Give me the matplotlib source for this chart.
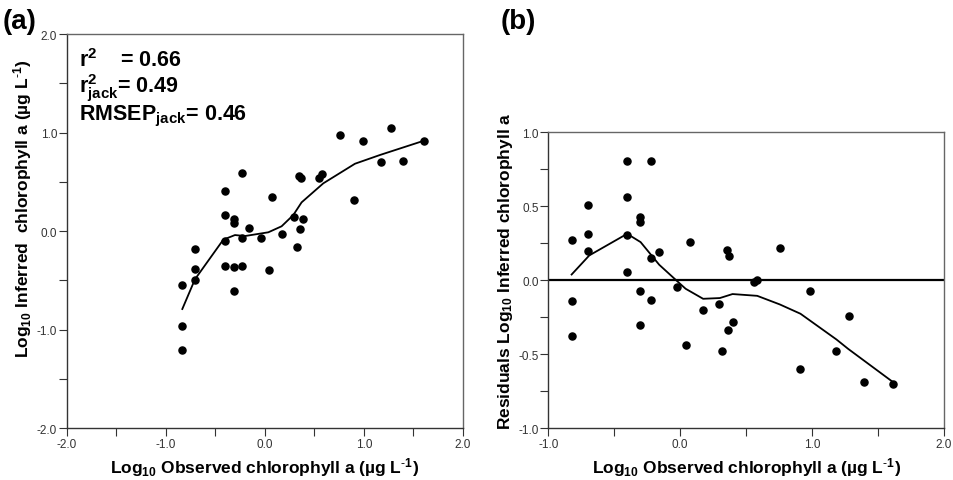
import matplotlib
matplotlib.use('Agg')
import matplotlib.pyplot as plt
import numpy as np

plt.rcParams['font.family'] = ['Liberation Sans', 'DejaVu Sans']
plt.rcParams['mathtext.fontset'] = 'custom'
plt.rcParams['mathtext.rm'] = 'Liberation Sans'
plt.rcParams['mathtext.bf'] = 'Liberation Sans:bold'
plt.rcParams['mathtext.default'] = 'bf'

# (a) observed vs inferred
obs_a = [-0.835, -0.835, -0.835, -0.707, -0.707, -0.707, -0.407, -0.407, -0.407, -0.407,
         -0.31, -0.31, -0.31, -0.31, -0.229, -0.229, -0.229, -0.165, -0.037, 0.068,
         0.037, 0.168, 0.29, 0.32, 0.35, 0.387, 0.34, 0.36, 0.545, 0.573,
         0.761, 0.899, 0.987, 1.175, 1.27, 1.391, 1.606]
inf_a = [-0.55, -0.968, -1.205, -0.183, -0.386, -0.494, 0.403, 0.166, -0.098, -0.352,
         0.122, 0.081, -0.369, -0.606, 0.589, -0.074, -0.359, 0.03, -0.074, 0.342,
         -0.393, -0.03, 0.139, -0.166, 0.02, 0.122, 0.562, 0.535, 0.538, 0.579,
         0.978, 0.315, 0.917, 0.704, 1.043, 0.711, 0.917]
lo_x_a = [-0.835, -0.707, -0.421, -0.303, -0.202, 0.034, 0.168, 0.286, 0.37, 0.589, 0.909, 1.162, 1.606]
lo_y_a = [-0.792, -0.49, -0.088, -0.041, -0.051, -0.013, 0.048, 0.162, 0.291, 0.484, 0.683, 0.772, 0.917]

# (b) residuals
obs_b = [-0.823, -0.823, -0.823, -0.7, -0.7, -0.7, -0.402, -0.402, -0.402, -0.402,
         -0.306, -0.306, -0.306, -0.306, -0.218, -0.218, -0.218, -0.159, -0.027, 0.041,
         0.073, 0.172, 0.298, 0.318, 0.354, 0.359, 0.371, 0.397, 0.556, 0.579,
         0.76, 0.907, 0.988, 1.182, 1.278, 1.397, 1.614]
res_b = [0.274, -0.139, -0.375, 0.512, 0.314, 0.197, 0.803, 0.562, 0.303, 0.055,
         0.427, 0.391, -0.069, -0.305, 0.807, 0.148, -0.132, 0.19, -0.046, -0.44,
         0.26, -0.204, -0.163, -0.479, 0.208, -0.334, 0.161, -0.28, -0.012, 0.003,
         0.22, -0.598, -0.073, -0.479, -0.24, -0.688, -0.704]
lo_x_b = [-0.823, -0.689, -0.402, -0.3, -0.159, -0.02, 0.041, 0.174, 0.301, 0.397, 0.584, 0.755, 0.912, 1.185, 1.273, 1.614]
lo_y_b = [0.039, 0.168, 0.314, 0.258, 0.105, -0.008, -0.057, -0.125, -0.12, -0.093, -0.105, -0.163, -0.226, -0.4, -0.463, -0.688]

unit = r'(µg L$^{\text{-}1}$)'
xlabel = 'Log$_{10}$ Observed chlorophyll a ' + unit

fig = plt.figure(figsize=(9.54, 4.81), dpi=100)
ax1 = fig.add_axes([0.0702, 0.1081, 0.4151, 0.8191])
ax2 = fig.add_axes([0.5747, 0.1075, 0.4148, 0.6154])


def style_axes(ax):
    for side in ['top', 'right']:
        ax.spines[side].set_color('#666666')
        ax.spines[side].set_linewidth(1.0)
    for side in ['left', 'bottom']:
        ax.spines[side].set_color('#333333')
        ax.spines[side].set_linewidth(1.0)
    ax.tick_params(which='both', direction='out', length=6, width=0.8, color='#333333',
                   labelsize=8.5, labelcolor='#333333', pad=1)


ax1.scatter(obs_a, inf_a, s=26, color='black', zorder=3)
ax1.plot(lo_x_a, lo_y_a, color='black', lw=1.3)
ax1.set_xlim(-2, 2)
ax1.set_ylim(-2, 2)
ax1.set_xticks([-2, -1, 0, 1, 2])
ax1.set_xticklabels(['-2.0', '-1.0', '0.0', '1.0', '2.0'])
ax1.set_xticks([-1.5, -0.5, 0.5, 1.5], minor=True)
ax1.set_yticks([-2, -1, 0, 1, 2])
ax1.set_yticklabels(['-2.0', '-1.0', '0.0', '1.0', '2.0'])
ax1.set_yticks([-1.5, -0.5, 0.5, 1.5], minor=True)
style_axes(ax1)
ax1.set_xlabel(xlabel, fontsize=12.5, fontweight='bold', labelpad=4)
ax1.set_ylabel('Log$_{10}$ Inferred  chlorophyll a ' + unit, fontsize=12.5, fontweight='bold')
ax1.yaxis.set_label_coords(-0.082, 0.56)
ax1.text(0.031, 0.9195, 'r$^{2}$    = 0.66', transform=ax1.transAxes, fontsize=15.5, fontweight='bold', va='baseline')
ax1.text(0.031, 0.852, 'r$^{2}_{jack}$= 0.49', transform=ax1.transAxes, fontsize=15.5, fontweight='bold', va='baseline')
ax1.text(0.031, 0.784, 'RMSEP$_{jack}$= 0.46', transform=ax1.transAxes, fontsize=15.5, fontweight='bold', va='baseline')
fig.text(0.003, 0.981, '(a)', fontsize=20, fontweight='bold', va='top')

ax2.scatter(obs_b, res_b, s=26, color='black', zorder=3)
ax2.plot(lo_x_b, lo_y_b, color='black', lw=1.3)
ax2.axhline(0, color='black', lw=1.6)
ax2.set_xlim(-1, 2)
ax2.set_ylim(-1, 1)
ax2.set_xticks([-1, 0, 1, 2])
ax2.set_xticklabels(['-1.0', '0.0', '1.0', '2.0'])
ax2.set_xticks([-0.5, 0.5, 1.5], minor=True)
ax2.set_yticks([-1, -0.5, 0, 0.5, 1])
ax2.set_yticklabels(['-1.0', '-0.5', '0.0', '0.5', '1.0'])
ax2.set_yticks([-0.75, -0.25, 0.25, 0.75], minor=True)
style_axes(ax2)
ax2.set_xlabel(xlabel, fontsize=12.5, fontweight='bold', labelpad=4)
ax2.set_ylabel('Residuals Log$_{10}$ Inferred chlorophyll a', fontsize=12.5, fontweight='bold')
ax2.yaxis.set_label_coords(-0.084, 0.533)
fig.text(0.525, 0.981, '(b)', fontsize=20, fontweight='bold', va='top')

fig.savefig('out.png', dpi=100)
